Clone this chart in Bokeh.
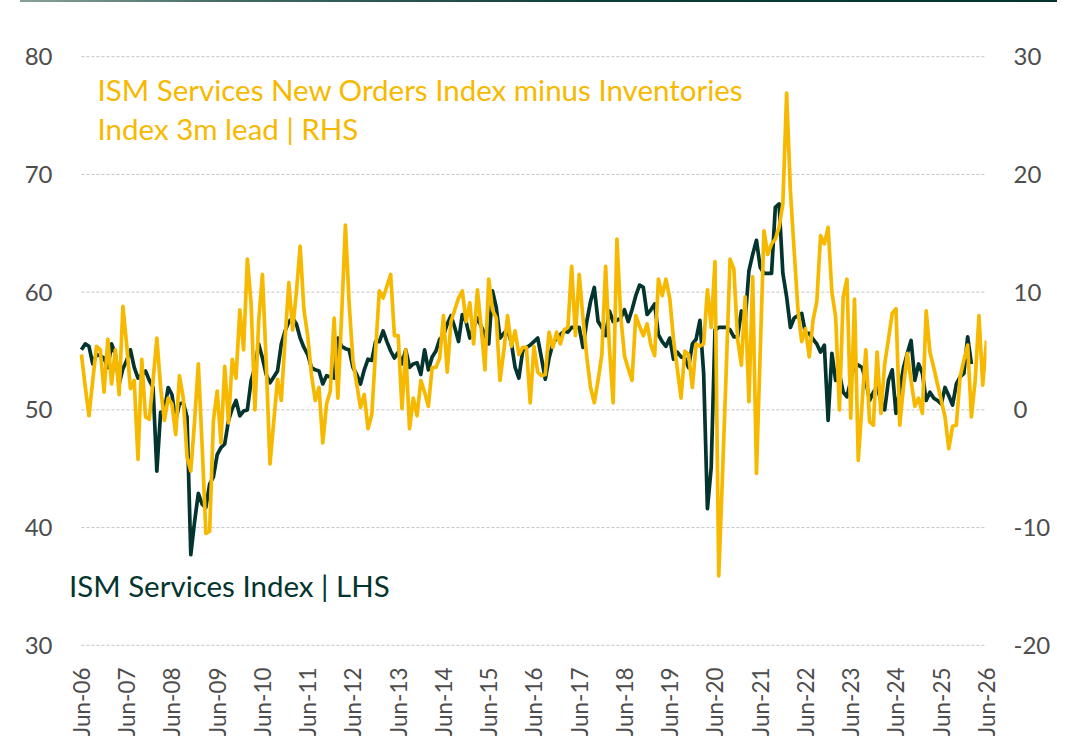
import math
from bokeh.plotting import figure
from bokeh.models import Range1d, LinearAxis, FixedTicker, Label, Div, ColumnDataSource
from bokeh.layouts import column
from bokeh.embed import file_html
from bokeh.resources import INLINE

# ---------------- data ----------------
# month index 0 = Jun-06
tick_labels = ["Jun-%02d" % (y % 100) for y in range(2006, 2027)]
tick_months = [12 * i for i in range(len(tick_labels))]

left_ticks = [30, 40, 50, 60, 70, 80]
right_ticks = [-20, -10, 0, 10, 20, 30]
right_tick_labels = ["-20", "-10", "0", "10", "20", "30"]

# ISM Services Index (LHS), monthly from Jun-06
ism_services = [
    55.1, 55.6, 55.4, 53.9, 54.7, 54.6, 54.4, 53.6, 55.6, 54.7,
    52.2, 53.5, 54.2, 55.1, 53.6, 52.7, 53.0, 53.3, 52.5, 51.9,
    44.8, 49.8, 49.9, 51.9, 51.3, 49.1, 50.5, 50.6, 49.4, 37.7,
    40.5, 42.9, 42.0, 41.7, 43.7, 44.3, 46.2, 46.8, 47.1, 49.1,
    50.1, 50.8, 49.5, 49.9, 50.0, 52.5, 53.6, 55.6, 54.4, 53.0,
    52.3, 52.8, 53.3, 55.6, 56.7, 57.5, 57.8, 57.3, 56.1, 55.3,
    54.7, 53.6, 53.4, 53.3, 52.2, 52.9, 52.8, 52.7, 56.1, 55.4,
    55.2, 55.1, 53.6, 53.0, 52.2, 53.4, 54.3, 54.2, 55.8, 55.8,
    56.7, 55.8, 55.0, 54.4, 54.9, 53.9, 55.1, 53.6, 53.9, 54.0,
    53.0, 55.1, 53.4, 54.5, 55.0, 56.0, 56.3, 57.3, 58.0, 57.0,
    55.8, 58.1, 57.5, 56.1, 57.0, 57.8, 57.1, 56.4, 55.6, 60.1,
    58.7, 56.1, 56.5, 56.8, 55.7, 53.6, 52.7, 55.0, 55.3, 55.5,
    55.8, 56.1, 54.4, 52.6, 54.4, 55.6, 56.1, 56.4, 56.7, 56.6,
    57.0, 57.0, 57.0, 55.3, 57.5, 59.2, 60.4, 57.5, 57.0, 56.3,
    58.4, 57.5, 57.6, 57.8, 58.5, 57.5, 58.5, 59.7, 60.6, 60.4,
    58.1, 58.5, 59.0, 56.4, 55.8, 55.4, 56.1, 54.3, 54.9, 54.5,
    54.4, 53.6, 55.6, 56.0, 57.6, 53.1, 41.6, 45.1, 56.8, 57.0,
    57.0, 57.0, 56.8, 56.2, 56.2, 58.4, 57.6, 61.8, 63.2, 64.4,
    62.1, 61.6, 61.6, 61.6, 67.2, 67.5, 61.6, 59.6, 57.0, 57.8,
    58.0, 58.2, 56.5, 56.5, 56.0, 55.6, 54.9, 55.5, 49.1, 54.8,
    52.5, 53.1, 51.5, 51.1, 52.5, 53.9, 53.8, 53.6, 52.5, 50.8,
    51.5, 51.9, 50.8, 50.0, 52.5, 53.4, 49.7, 51.7, 53.6, 54.8,
    55.9, 52.5, 53.9, 53.1, 50.8, 51.5, 51.0, 50.8, 50.5, 51.9,
    51.2, 50.4, 52.2, 52.8, 53.1, 56.2, 53.9,
]

# ISM Services New Orders minus Inventories, 3m lead (RHS), monthly from Jun-06
new_orders_minus_inv = [
    4.7, 2.0, -0.5, 2.5, 5.4, 5.1, 1.5, 6.0, 2.2, 5.1,
    1.3, 8.8, 5.5, 1.8, 2.5, -4.2, 4.3, -0.6, -0.8, 2.5,
    6.1, 1.9, -0.9, 1.0, 0.5, -2.1, 2.9, 1.0, -4.0, -5.2,
    -1.0, 3.9, -3.0, -10.5, -10.3, -0.9, 1.6, -2.8, 3.7, -1.1,
    4.3, 2.7, 8.5, 5.1, 12.8, 9.0, 0.0, 7.5, 11.5, 4.0,
    -4.6, -1.0, 2.6, 0.8, 6.0, 10.8, 6.8, 10.0, 13.9, 8.5,
    6.3, 3.0, 0.8, 1.9, -2.8, 0.5, 1.6, 7.8, 1.0, 8.0,
    15.7, 9.0, 4.2, 2.2, 0.2, 1.3, -1.6, -0.4, 5.0, 10.1,
    9.5, 10.5, 11.5, 6.3, 6.3, 0.1, 5.1, -1.6, 1.0, -0.5,
    2.5, 1.5, 0.3, 3.6, 3.6, 4.4, 8.0, 3.2, 7.5, 8.5,
    9.5, 10.1, 7.5, 9.1, 5.6, 10.2, 7.0, 3.4, 11.1, 8.5,
    7.8, 2.5, 5.0, 8.0, 5.4, 6.7, 4.7, 5.3, 5.3, 0.6,
    5.4, 3.2, 2.9, 3.0, 6.6, 5.3, 6.6, 5.6, 6.8, 7.0,
    12.2, 6.3, 11.5, 7.8, 4.5, 1.9, 0.6, 2.5, 4.7, 12.2,
    5.3, 0.6, 14.5, 8.0, 4.6, 3.5, 2.5, 8.0, 7.1, 6.3,
    7.3, 5.5, 4.6, 11.1, 9.7, 11.1, 9.5, 6.0, 3.5, 1.0,
    5.0, 4.7, 1.9, 5.6, 5.4, 5.6, 10.2, 7.0, 12.6, -14.1,
    -5.5, 3.5, 12.8, 12.0, 6.0, 3.8, 9.6, 0.7, 11.3, -5.4,
    5.0, 15.2, 13.2, 14.1, 14.5, 15.5, 17.5, 26.9, 18.6, 13.5,
    8.5, 5.8, 6.9, 4.5, 7.6, 9.2, 14.8, 14.1, 15.5, 10.0,
    7.9, 0.0, 9.6, 11.1, -0.7, 9.4, -4.3, 0.5, 5.1, -1.0,
    -1.3, 4.9, -0.3, 3.9, 6.0, 8.2, 8.6, -1.3, 2.0, 4.8,
    2.5, 0.3, 1.0, -0.3, 8.4, 4.9, 3.6, 2.2, 0.8, -0.6,
    -3.3, -1.4, -1.3, 2.8, 4.2, 5.5, -0.6, 2.5, 8.0, 2.1,
    5.9,
]

# ---------------- style ----------------
DARK = "#03352e"
YELLOW = "#f6b900"
GREY = "#4d4d4d"
FONT = "Lato"

src_dark = ColumnDataSource(dict(m=list(range(len(ism_services))), v=ism_services))
src_yel = ColumnDataSource(dict(m=list(range(len(new_orders_minus_inv))), v=new_orders_minus_inv))
src_grid = ColumnDataSource(dict(y=left_ticks))

p = figure(width=1076, height=745, output_backend="svg", toolbar_location=None,
           x_range=Range1d(-5.55, tick_months[-1]), y_range=Range1d(29.9, 80.1),
           min_border_left=60, min_border_right=90, min_border_top=53, min_border_bottom=101)
p.extra_y_ranges = {"rhs": Range1d(-20.1, 30.1)}
p.outline_line_color = None
p.background_fill_color = "white"
p.border_fill_color = "white"
p.xgrid.visible = False
p.ygrid.visible = False

# dashed horizontal gridlines spanning the data period
p.segment(x0=tick_months[0], x1=tick_months[-1], y0="y", y1="y", source=src_grid,
          line_color="#c4c4c4", line_dash="3 2", line_width=1)

# axes
p.yaxis.ticker = FixedTicker(ticks=left_ticks)
p.xaxis.ticker = FixedTicker(ticks=tick_months)
p.xaxis.major_label_overrides = {m: lab for m, lab in zip(tick_months, tick_labels)}
p.xaxis.major_label_orientation = math.pi / 2

rax = LinearAxis(y_range_name="rhs", ticker=FixedTicker(ticks=right_ticks))
rax.major_label_overrides = {t: lab for t, lab in zip(right_ticks, right_tick_labels)}
p.add_layout(rax, "right")

for ax in [p.xaxis[0], p.yaxis[0], rax]:
    ax.axis_line_color = None
    ax.major_tick_line_color = None
    ax.minor_tick_line_color = None
    ax.major_tick_out = 0
    ax.major_tick_in = 0
    ax.minor_tick_out = 0
    ax.minor_tick_in = 0
    ax.major_label_text_font = FONT
    ax.major_label_text_color = GREY
p.yaxis[0].major_label_text_font_size = "24px"
rax.major_label_text_font_size = "24px"
p.xaxis[0].major_label_text_font_size = "22.5px"
p.yaxis[0].major_label_standoff = 8
rax.major_label_standoff = 27
p.xaxis[0].major_label_standoff = 21

# lines
p.line("m", "v", source=src_dark, line_color=DARK, line_width=3.7, line_join="round")
p.line("m", "v", source=src_yel, y_range_name="rhs", line_color=YELLOW, line_width=3.7,
       line_join="round")

# annotations
for txt, x, y, col in [
    ("ISM Services New Orders Index minus Inventories", 4.27, 77.25, YELLOW),
    ("Index 3m lead | RHS", 4.27, 73.86, YELLOW),
    ("ISM Services Index | LHS", -3.30, 35.1, DARK),
]:
    p.add_layout(Label(x=x, y=y, text=txt, text_font=FONT, text_font_size="29.5px",
                       text_color=col, text_baseline="alphabetic", text_align="left"))

top_rule = Div(text="", width=1037, height=2, margin=(0, 0, 0, 20),
               styles={"background": "linear-gradient(90deg, #8aa19b 0%, #426a63 20%, #0e3e37 55%, #04332c 100%)",
                       "overflow": "hidden"})

layout = column(top_rule, p, spacing=0)
open("out.html", "w").write(file_html(layout, INLINE))
